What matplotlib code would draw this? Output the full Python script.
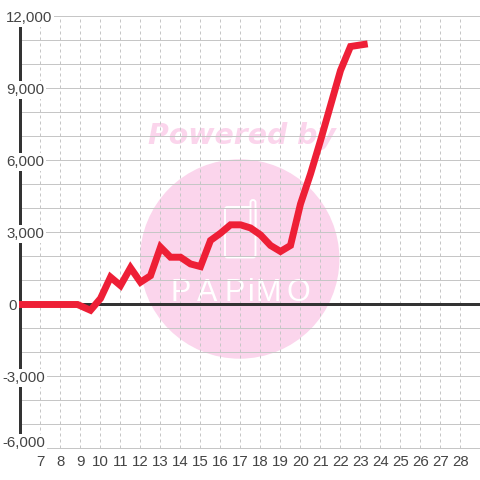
import matplotlib
matplotlib.use('Agg')
import matplotlib.pyplot as plt
from matplotlib.patches import Circle, FancyBboxPatch
from matplotlib.transforms import Affine2D, blended_transform_factory

plt.rcParams['font.family'] = ['Liberation Sans', 'DejaVu Sans']

xvals = [5.83, 6.5, 7, 7.5, 8, 8.5, 8.85, 9.5, 10, 10.5, 11, 11.5, 12, 12.5, 13, 13.5, 14, 14.5, 15, 15.5,
         16, 16.5, 17, 17.5, 18, 18.5, 19, 19.5, 20, 20.5, 21, 21.5, 22, 22.5, 23.36]
yvals = [0, 0, 0, 0, 0, 0, 0, -240, 250, 1140, 790, 1530, 930, 1200, 2390, 1970, 1970, 1690, 1580, 2670,
         2970, 3320, 3320, 3190, 2900, 2460, 2210, 2460, 4190, 5440, 6830, 8290, 9750, 10750, 10860]
xticks = list(range(7, 29))
ygrid = list(range(-6000, 13000, 1000))
ylabels = {12000: '12,000', 9000: '9,000', 6000: '6,000', 3000: '3,000', 0: '0', -3000: '-3,000', -6000: '-6,000'}
ylabel_left_px = {12000: 6, 9000: 6, 6000: 6, 3000: 6, 0: 8, -3000: 2.5, -6000: 2.5}
ylabel_base_px = {12000: 22, 9000: 94, 6000: 166, 3000: 238, 0: 310, -3000: 382, -6000: 447}

GRID = '#c6c6c6'
AXIS = '#333333'
TEXT = '#444444'
PINK = '#fbd5ec'
RED = '#ee1f36'

fig = plt.figure(figsize=(4.8, 4.8), dpi=100, facecolor='white')
ax = fig.add_axes([0, 0, 1, 1])
ax.set_xlim(4.975, 28.975)
ax.set_ylim(-7312.5, 12687.5)
ax.axis('off')

pix = Affine2D().scale(1, -1).translate(0, 480)  # reference pixel coords -> display
bx = blended_transform_factory(ax.transData, pix)

# watermark
fig.add_artist(Circle((239.7, 259), 99.7, fc=PINK, ec='none', zorder=0, transform=pix))
fig.text(241.5, 144.5, 'Powered by', transform=pix, ha='center', va='baseline', fontsize=20.4,
         family='DejaVu Sans', weight='bold', style='oblique', color=PINK, zorder=0)
fig.add_artist(FancyBboxPatch((225, 207), 30.5, 50.5, boxstyle='round,pad=0,rounding_size=2.5',
                              fc='none', ec='white', lw=1.4, transform=pix, zorder=0))
fig.add_artist(FancyBboxPatch((250.5, 200), 5, 30, boxstyle='round,pad=0,rounding_size=2.5',
                              fc=PINK, ec='white', lw=1.4, transform=pix, zorder=0))
for ch, cx in zip('PAPiMO', [181, 207, 235, 251, 268.5, 298]):
    fig.text(cx, 301, ch, transform=pix, ha='center', va='baseline', fontsize=22,
             family='Liberation Sans', color='white', zorder=0)

ax.set_zorder(2)
ax.patch.set_visible(False)

grid_h = ax.hlines(ygrid, 6, 28.975, color=GRID, lw=0.72, zorder=1)
grid_v = ax.vlines(xticks, -6000, 12000, color=GRID, lw=0.72, linestyles=(0, (3, 3)), zorder=1)
grid_h.set_snap(False)
grid_v.set_snap(False)
ax.hlines([0], 6, 28.975, color=AXIS, lw=2.16, zorder=2).set_snap(False)
ax.vlines([6], -6000, 12000, color=AXIS, lw=2.16, zorder=2).set_snap(False)
ax.plot(xvals, yvals, color=RED, lw=5.0, solid_joinstyle='miter', solid_capstyle='butt', zorder=3)

for v, s in ylabels.items():
    ax.text(ylabel_left_px[v], ylabel_base_px[v], s, transform=pix, ha='left', va='baseline', fontsize=10.8,
            color=TEXT, bbox=dict(fc='white', ec='none', pad=1.5), zorder=4)
for t in xticks:
    ax.text(t, 466, str(t), transform=bx, ha='center', va='baseline', fontsize=10.8, color=TEXT, zorder=4)

fig.savefig('out.png', dpi=100)
